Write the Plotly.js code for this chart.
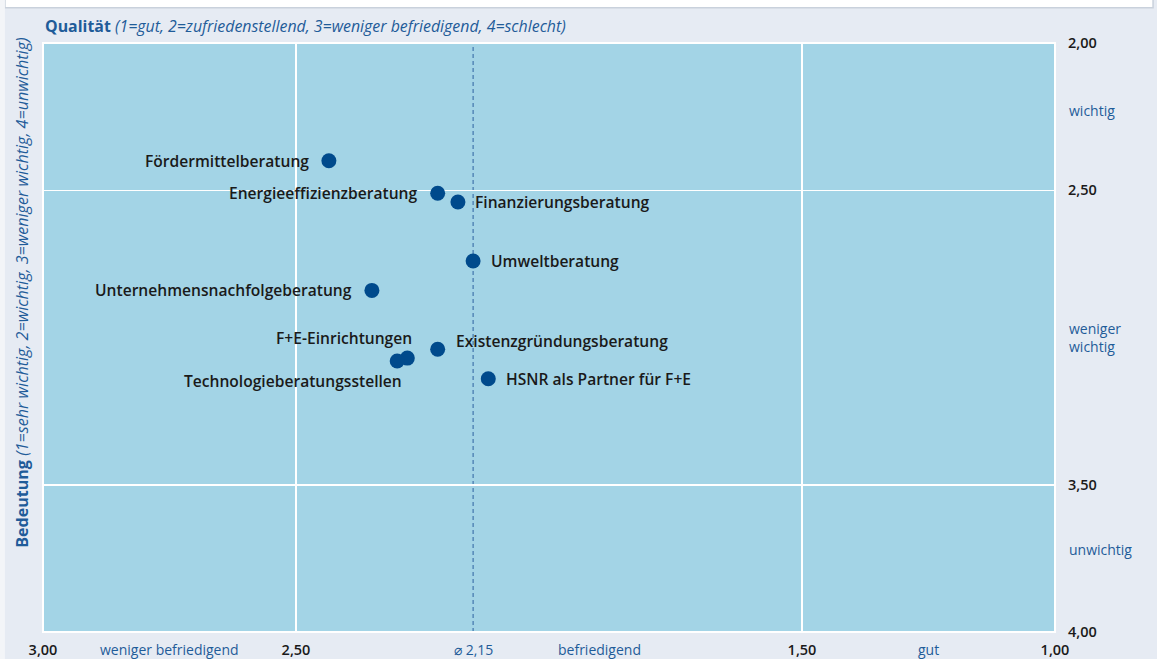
<!DOCTYPE html>
<html>
<head>
<meta charset="utf-8">
<script src="https://cdn.plot.ly/plotly-3.0.1.min.js"></script>
<style>html,body{margin:0;padding:0;background:#fff;}#chart{width:1157px;height:659px;}</style>
</head>
<body>
<div id="chart"></div>
<script>
// ---- data ----
const labels = ["Fördermittelberatung","Energieeffizienzberatung","Finanzierungsberatung","Umweltberatung",
  "Unternehmensnachfolgeberatung","Existenzgründungsberatung","F+E-Einrichtungen","Technologieberatungsstellen",
  "HSNR als Partner für F+E"];
const quality    = [2.435, 2.22, 2.18, 2.15, 2.35, 2.22, 2.28, 2.30, 2.12];
const importance = [2.40, 2.51, 2.54, 2.74, 2.84, 3.04, 3.07, 3.08, 3.14];
const avgQuality = 2.15;
const xTickVals = [3, 2.5, 1.5, 1];
const xTickText = ["3,00", "2,50", "1,50", "1,00"];
const yTickVals = [2, 2.5, 3.5, 4];
const yTickText = ["2,00", "2,50", "3,50", "4,00"];
const xCatLabels = ["weniger befriedigend", "\u2300 2,15", "befriedigend", "gut"];
const xCatPos = [2.75, 2.15, 1.9, 1.25];
const yCatLabels = ["wichtig", "weniger<br>wichtig", "unwichtig"];
const yCatPos = [2.23, 3.0, 3.72];

// ---- styling (label placement) ----
const labelSide = ["left","left","right","right","left","right","left","left","right"];
const labelYShift = [0,0,0,0,0,8,20,-20,0];
const labelXShift = [-18,-18,15,16,-18,16,7,7,16];

const BLUE = "#1f5c99";
const FONT = "'Open Sans', Lato, sans-serif";

const annotations = [];
labels.forEach((t, i) => {
  annotations.push({
    x: quality[i], y: importance[i], xref: "x", yref: "y", text: t, showarrow: false,
    xanchor: labelSide[i] === "left" ? "right" : "left", yanchor: "middle",
    xshift: labelXShift[i], yshift: labelYShift[i],
    font: {family: FONT, size: 15.6, color: "#1a1a1a", weight: 600}
  });
});
xCatLabels.forEach((t, i) => {
  annotations.push({
    x: xCatPos[i], y: 0, xref: "x", yref: "paper", text: t, showarrow: false,
    xanchor: "center", yanchor: "top", yshift: -6,
    font: {family: FONT, size: 14, color: BLUE}
  });
});
yCatLabels.forEach((t, i) => {
  annotations.push({
    x: 1, y: yCatPos[i], xref: "paper", yref: "y", text: t, showarrow: false,
    xanchor: "left", yanchor: "middle", xshift: 12, align: "left",
    font: {family: FONT, size: 14, color: BLUE}
  });
});
annotations.push({
  x: 0, y: 1.029, xref: "paper", yref: "paper", xanchor: "left", yanchor: "middle", showarrow: false,
  text: "<b>Qualität</b> <i>(1=gut, 2=zufriedenstellend, 3=weniger befriedigend, 4=schlecht)</i>",
  font: {family: FONT, size: 15.9, color: BLUE}
});
annotations.push({
  x: -0.0215, y: 0.139, xref: "paper", yref: "paper", xanchor: "center", yanchor: "bottom", showarrow: false,
  textangle: -90,
  text: "<b>Bedeutung</b> <i>(1=sehr wichtig, 2=wichtig, 3=weniger wichtig, 4=unwichtig)</i>",
  font: {family: FONT, size: 16.1, color: BLUE}
});

const trace = {
  type: "scatter", mode: "markers", x: quality, y: importance, text: labels,
  hoverinfo: "text",
  marker: {size: 15, color: "#004a8c", line: {width: 0}}
};

const layout = {
  width: 1157, height: 659,
  margin: {l: 43, r: 102, t: 43, b: 27, pad: 0},
  paper_bgcolor: "#e6ebf3", plot_bgcolor: "#a3d4e6",
  showlegend: false,
  xaxis: {
    range: [3, 1], tickvals: xTickVals, ticktext: xTickText, showgrid: true, gridcolor: "#ffffff", gridwidth: 1.5,
    zeroline: false, showline: false, ticks: "", ticklabelstandoff: 7,
    tickfont: {family: FONT, size: 14.5, color: "#1a1a1a", weight: 600}, fixedrange: true
  },
  yaxis: {
    range: [4, 2], side: "right", tickvals: yTickVals, ticktext: yTickText, showgrid: true, gridcolor: "#ffffff", gridwidth: 1.5,
    zeroline: false, showline: false, ticks: "", ticklabelstandoff: 12,
    tickfont: {family: FONT, size: 14.5, color: "#1a1a1a", weight: 600}, fixedrange: true
  },
  shapes: [
    {type: "rect", xref: "paper", yref: "paper", x0: 0, x1: 1, y0: 0, y1: 1,
     line: {color: "#ffffff", width: 2}, fillcolor: "rgba(0,0,0,0)", layer: "above"},
    {type: "line", xref: "x", yref: "paper", x0: avgQuality, x1: avgQuality, y0: 0, y1: 1,
     line: {color: "#2e62a0", width: 1, dash: "4px,3px"}, layer: "below"},
    {type: "rect", xref: "paper", yref: "paper", x0: -0.0376, x1: 1.0969, y0: 1.060, y1: 1.08,
     line: {color: "#c9d1dc", width: 1.5}, fillcolor: "#ffffff", layer: "above"},
    {type: "rect", xref: "paper", yref: "paper", x0: -0.05, x1: -0.0376, y0: -0.1, y1: 1.1,
     line: {width: 0}, fillcolor: "#f3f5f8", layer: "above"}
  ],
  annotations: annotations
};

Plotly.newPlot("chart", [trace], layout, {displayModeBar: false, staticPlot: true});
</script>
</body>
</html>
